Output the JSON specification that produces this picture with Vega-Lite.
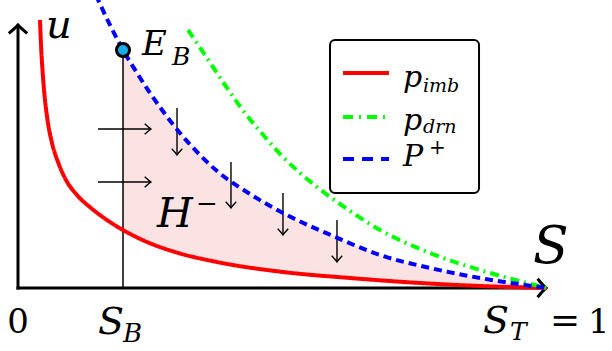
{
  "$schema": "https://vega.github.io/schema/vega-lite/v6.json",
  "width": 612,
  "height": 351,
  "padding": 0,
  "autosize": {"type": "none"},
  "background": "white",
  "data": {"values": [{}]},
  "config": {
    "view": {"stroke": null},
    "axis": {"disable": true},
    "text": {"font": "DejaVu Serif", "fontStyle": "italic", "align": "left", "baseline": "alphabetic", "color": "black"}
  },
  "datasets": {
    "curves": [
      {"curve": "p_imb", "S": 0.0416, "u": 2.68},
      {"curve": "p_imb", "S": 0.0435, "u": 2.43},
      {"curve": "p_imb", "S": 0.0463, "u": 2.18},
      {"curve": "p_imb", "S": 0.0501, "u": 1.93},
      {"curve": "p_imb", "S": 0.0558, "u": 1.68},
      {"curve": "p_imb", "S": 0.0643, "u": 1.45},
      {"curve": "p_imb", "S": 0.0756, "u": 1.26},
      {"curve": "p_imb", "S": 0.0907, "u": 1.08},
      {"curve": "p_imb", "S": 0.1115, "u": 0.93},
      {"curve": "p_imb", "S": 0.1380, "u": 0.80},
      {"curve": "p_imb", "S": 0.1682, "u": 0.68},
      {"curve": "p_imb", "S": 0.1985, "u": 0.58},
      {"curve": "p_imb", "S": 0.2439, "u": 0.46},
      {"curve": "p_imb", "S": 0.2968, "u": 0.36},
      {"curve": "p_imb", "S": 0.3762, "u": 0.26},
      {"curve": "p_imb", "S": 0.5009, "u": 0.16},
      {"curve": "p_imb", "S": 0.6276, "u": 0.10},
      {"curve": "p_imb", "S": 0.7599, "u": 0.05},
      {"curve": "p_imb", "S": 0.8733, "u": 0.02},
      {"curve": "p_imb", "S": 1.0, "u": 0.0},
      {"curve": "p_drn", "S": 0.3214, "u": 2.58},
      {"curve": "p_drn", "S": 0.3535, "u": 2.33},
      {"curve": "p_drn", "S": 0.3913, "u": 2.03},
      {"curve": "p_drn", "S": 0.4291, "u": 1.75},
      {"curve": "p_drn", "S": 0.4669, "u": 1.51},
      {"curve": "p_drn", "S": 0.5009, "u": 1.31},
      {"curve": "p_drn", "S": 0.5331, "u": 1.15},
      {"curve": "p_drn", "S": 0.5652, "u": 1.01},
      {"curve": "p_drn", "S": 0.6087, "u": 0.84},
      {"curve": "p_drn", "S": 0.6843, "u": 0.58},
      {"curve": "p_drn", "S": 0.7788, "u": 0.35},
      {"curve": "p_drn", "S": 0.8733, "u": 0.18},
      {"curve": "p_drn", "S": 0.9546, "u": 0.06},
      {"curve": "p_drn", "S": 1.0, "u": 0.0},
      {"curve": "P+", "S": 0.1474, "u": 2.93},
      {"curve": "P+", "S": 0.1550, "u": 2.84},
      {"curve": "P+", "S": 0.1777, "u": 2.59},
      {"curve": "P+", "S": 0.1985, "u": 2.38},
      {"curve": "P+", "S": 0.2250, "u": 2.15},
      {"curve": "P+", "S": 0.2495, "u": 1.95},
      {"curve": "P+", "S": 0.2779, "u": 1.74},
      {"curve": "P+", "S": 0.3062, "u": 1.55},
      {"curve": "P+", "S": 0.3440, "u": 1.33},
      {"curve": "P+", "S": 0.3762, "u": 1.17},
      {"curve": "P+", "S": 0.4386, "u": 0.94},
      {"curve": "P+", "S": 0.5009, "u": 0.75},
      {"curve": "P+", "S": 0.5955, "u": 0.52},
      {"curve": "P+", "S": 0.6843, "u": 0.33},
      {"curve": "P+", "S": 0.7788, "u": 0.20},
      {"curve": "P+", "S": 0.8733, "u": 0.10},
      {"curve": "P+", "S": 1.0, "u": 0.0}
    ],
    "hflow": [
      {"S1": 0.1512, "S2": 0.2514, "u": 1.59},
      {"S1": 0.1512, "S2": 0.2514, "u": 1.06}
    ],
    "vflow": [
      {"S": 0.3006, "u1": 1.80, "u2": 1.33},
      {"S": 0.4026, "u1": 1.26, "u2": 0.80},
      {"S": 0.5009, "u1": 0.95, "u2": 0.53},
      {"S": 0.6030, "u1": 0.68, "u2": 0.26}
    ]
  },
  "layer": [
    {
      "data": {"name": "curves"},
      "transform": [{"filter": "datum.curve === 'P+' && datum.S >= 0.198"}],
      "mark": {"type": "area", "color": "#fce3e3", "interpolate": "monotone"},
      "encoding": {
        "x": {"field": "S", "type": "quantitative", "scale": {"domain": [-0.03403, 1.12287], "nice": false, "zero": false}},
        "y": {"field": "u", "type": "quantitative", "scale": {"domain": [-0.63, 2.88], "nice": false, "zero": false}},
        "y2": {"datum": 0}
      }
    },
    {
      "data": {"name": "curves"},
      "transform": [{"filter": "datum.curve === 'p_imb' && datum.S >= 0.198"}],
      "mark": {"type": "area", "color": "white", "interpolate": "monotone"},
      "encoding": {
        "x": {"field": "S", "type": "quantitative"},
        "y": {"field": "u", "type": "quantitative"},
        "y2": {"datum": 0}
      }
    },
    {
      "mark": {"type": "rule", "color": "black", "strokeWidth": 1.5},
      "encoding": {"x": {"datum": 0.1985}, "y": {"datum": 0}, "y2": {"datum": 2.38}}
    },
    {
      "data": {"name": "hflow"},
      "mark": {"type": "rule", "color": "black", "strokeWidth": 1.4},
      "encoding": {
        "x": {"field": "S1", "type": "quantitative"},
        "x2": {"field": "S2"},
        "y": {"field": "u", "type": "quantitative"}
      }
    },
    {
      "data": {"name": "hflow"},
      "mark": {"type": "point", "filled": false, "color": "black", "strokeWidth": 1.4, "size": 110, "opacity": 1,
               "shape": "M -1.2 -1 Q -0.4 -0.25 0 0 Q -0.4 0.25 -1.2 1"},
      "encoding": {
        "x": {"field": "S2", "type": "quantitative"},
        "y": {"field": "u", "type": "quantitative"}
      }
    },
    {
      "data": {"name": "vflow"},
      "mark": {"type": "rule", "color": "black", "strokeWidth": 1.4},
      "encoding": {
        "x": {"field": "S", "type": "quantitative"},
        "y": {"field": "u1", "type": "quantitative"},
        "y2": {"field": "u2"}
      }
    },
    {
      "data": {"name": "vflow"},
      "mark": {"type": "point", "filled": false, "color": "black", "strokeWidth": 1.4, "size": 110, "opacity": 1,
               "shape": "M -1 -1.2 Q -0.25 -0.4 0 0 Q 0.25 -0.4 1 -1.2"},
      "encoding": {
        "x": {"field": "S", "type": "quantitative"},
        "y": {"field": "u2", "type": "quantitative"}
      }
    },
    {
      "mark": {"type": "rule", "color": "black", "strokeWidth": 3, "strokeCap": "square"},
      "encoding": {"x": {"datum": 0}, "y": {"datum": 0}, "y2": {"datum": 2.62}}
    },
    {
      "mark": {"type": "rule", "color": "black", "strokeWidth": 3, "strokeCap": "square"},
      "encoding": {"x": {"datum": 0}, "x2": {"datum": 0.995}, "y": {"datum": 0}}
    },
    {
      "mark": {"type": "point", "filled": false, "color": "black", "strokeWidth": 3, "size": 340, "opacity": 1,
               "shape": "M -1 0.9 Q -0.25 0.3 0 0 Q 0.25 0.3 1 0.9"},
      "encoding": {"x": {"datum": 0}, "y": {"datum": 2.63}}
    },
    {
      "mark": {"type": "point", "filled": false, "color": "black", "strokeWidth": 3, "size": 340, "opacity": 1,
               "shape": "M -0.9 -1 Q -0.3 -0.25 0 0 Q -0.3 0.25 -0.9 1"},
      "encoding": {"x": {"datum": 0.998}, "y": {"datum": 0}}
    },
    {
      "data": {"name": "curves"},
      "mark": {"type": "line", "strokeWidth": 4, "interpolate": "monotone", "clip": true},
      "encoding": {
        "x": {"field": "S", "type": "quantitative"},
        "y": {"field": "u", "type": "quantitative"},
        "color": {"field": "curve", "type": "nominal", "legend": null,
                  "scale": {"domain": ["p_imb", "p_drn", "P+"], "range": ["#ff0000", "#00ff00", "#0000ff"]}},
        "strokeDash": {"field": "curve", "type": "nominal", "legend": null,
                       "scale": {"domain": ["p_imb", "p_drn", "P+"], "range": [[1, 0], [9, 5, 2, 5], [8, 5]]}},
        "order": {"field": "S", "type": "quantitative"}
      }
    },
    {
      "mark": {"type": "point", "filled": true, "fill": "#17ade8", "stroke": "black", "strokeWidth": 3, "size": 170, "shape": "circle", "opacity": 1},
      "encoding": {"x": {"datum": 0.1985}, "y": {"datum": 2.38}}
    },
    {
      "mark": {"type": "rect", "fill": "white", "stroke": "black", "strokeWidth": 2, "cornerRadius": 5},
      "encoding": {"x": {"datum": 0.5898}, "x2": {"datum": 0.8715}, "y": {"datum": 2.48}, "y2": {"datum": 0.95}}
    },
    {
      "mark": {"type": "rule", "color": "#ff0000", "strokeWidth": 4},
      "encoding": {"x": {"datum": 0.6144}, "x2": {"datum": 0.7013}, "y": {"datum": 2.15}}
    },
    {
      "mark": {"type": "rule", "color": "#00ff00", "strokeWidth": 4, "strokeDash": [10, 6, 2, 6]},
      "encoding": {"x": {"datum": 0.6144}, "x2": {"datum": 0.7013}, "y": {"datum": 1.71}}
    },
    {
      "mark": {"type": "rule", "color": "#0000ff", "strokeWidth": 4, "strokeDash": [11, 8]},
      "encoding": {"x": {"datum": 0.6144}, "x2": {"datum": 0.7013}, "y": {"datum": 1.29}}
    },
    {"mark": {"type": "text", "font": "DejaVu Serif", "text": "p", "fontSize": 30}, "encoding": {"x": {"datum": 0.7278}, "y": {"datum": 2.01}}},
    {"mark": {"type": "text", "font": "DejaVu Serif", "text": "imb", "fontSize": 19}, "encoding": {"x": {"datum": 0.7656}, "y": {"datum": 1.96}}},
    {"mark": {"type": "text", "font": "DejaVu Serif", "text": "p", "fontSize": 30}, "encoding": {"x": {"datum": 0.7278}, "y": {"datum": 1.58}}},
    {"mark": {"type": "text", "font": "DejaVu Serif", "text": "drn", "fontSize": 19}, "encoding": {"x": {"datum": 0.7656}, "y": {"datum": 1.55}}},
    {"mark": {"type": "text", "font": "DejaVu Serif", "text": "P", "fontSize": 30}, "encoding": {"x": {"datum": 0.7278}, "y": {"datum": 1.22}}},
    {"mark": {"type": "text", "font": "DejaVu Serif", "text": "+", "fontSize": 20, "fontStyle": "normal"}, "encoding": {"x": {"datum": 0.7770}, "y": {"datum": 1.34}}},
    {"mark": {"type": "text", "font": "DejaVu Serif", "text": "u", "fontSize": 40}, "encoding": {"x": {"datum": 0.0530}, "y": {"datum": 2.50}}},
    {"mark": {"type": "text", "font": "DejaVu Serif", "text": "E", "fontSize": 34}, "encoding": {"x": {"datum": 0.2344}, "y": {"datum": 2.33}}},
    {"mark": {"type": "text", "font": "DejaVu Serif", "text": "B", "fontSize": 25}, "encoding": {"x": {"datum": 0.2912}, "y": {"datum": 2.23}}},
    {"mark": {"type": "text", "font": "DejaVu Serif", "text": "H", "fontSize": 41}, "encoding": {"x": {"datum": 0.2628}, "y": {"datum": 0.61}}},
    {"mark": {"type": "text", "font": "DejaVu Serif", "text": "−", "fontSize": 26, "fontStyle": "normal"}, "encoding": {"x": {"datum": 0.3365}, "y": {"datum": 0.76}}},
    {"mark": {"type": "text", "font": "DejaVu Serif", "text": "S", "fontSize": 52}, "encoding": {"x": {"datum": 0.9735}, "y": {"datum": 0.25}}},
    {"mark": {"type": "text", "font": "DejaVu Serif", "text": "0", "fontSize": 34, "fontStyle": "normal", "align": "center"}, "encoding": {"x": {"datum": 0}, "y": {"datum": -0.45}}},
    {"mark": {"type": "text", "font": "DejaVu Serif", "text": "S", "fontSize": 38}, "encoding": {"x": {"datum": 0.1512}, "y": {"datum": -0.46}}},
    {"mark": {"type": "text", "font": "DejaVu Serif", "text": "B", "fontSize": 26}, "encoding": {"x": {"datum": 0.1985}, "y": {"datum": -0.54}}},
    {"mark": {"type": "text", "font": "DejaVu Serif", "text": "S", "fontSize": 38}, "encoding": {"x": {"datum": 0.879}, "y": {"datum": -0.45}}},
    {"mark": {"type": "text", "font": "DejaVu Serif", "text": "T", "fontSize": 25}, "encoding": {"x": {"datum": 0.930}, "y": {"datum": -0.52}}},
    {"mark": {"type": "text", "font": "DejaVu Serif", "text": "=", "fontSize": 36, "fontStyle": "normal", "align": "center"}, "encoding": {"x": {"datum": 1.034}, "y": {"datum": -0.44}}},
    {"mark": {"type": "text", "font": "DejaVu Serif", "text": "1", "fontSize": 34, "fontStyle": "normal", "align": "center"}, "encoding": {"x": {"datum": 1.098}, "y": {"datum": -0.45}}}
  ]
}
